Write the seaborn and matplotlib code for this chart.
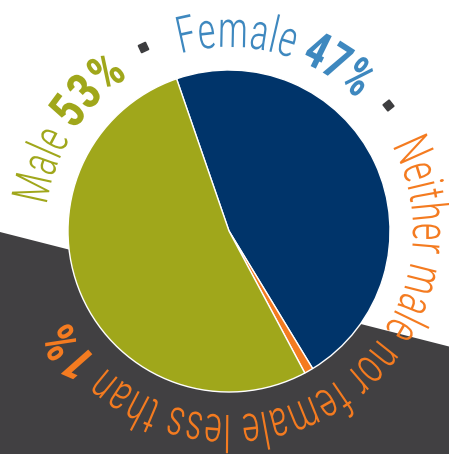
import numpy as np
import matplotlib
matplotlib.use("Agg")
import matplotlib.pyplot as plt
import seaborn as sns
from matplotlib.font_manager import FontProperties, findfont, get_font
from matplotlib.textpath import TextPath
from matplotlib.patches import PathPatch, Polygon
from matplotlib.transforms import Affine2D

# Gender split of respondents
categories = ["Female", "Neither male nor female", "Male"]
shares = [47, 0.9, 53]
slice_colors = ["#00346a", "#f47b20", "#a0a71b"]

# Ring captions: name text (light) followed by the value (bold)
caption_names = ["Male ", "Female ", "Neither male nor female less than "]
caption_values = ["53%", "47%", "1%"]
caption_colors = ["#a0a71b", "#3e88bf", "#f47b20"]
# angular extents, degrees clockwise from 12 o'clock: name start, value start, value end
caption_start = [-82.0, -15.4, 62.2]
caption_split = [-57.0, 22.8, 225.0]
caption_end = [-33.0, 44.2, 241.0]
separator_angles = [-25.1, 51.6]

W, H = 449, 454
CX, CY = 229, H - 231
PIE_R = 161
TEXT_R = 184
FS = 51

sns.set_style("white")
plt.rcParams["font.family"] = ["Roboto Condensed", "DejaVu Sans"]

light = FontProperties(family=["Roboto Condensed", "DejaVu Sans"], weight=300)
bold = FontProperties(family=["Roboto Condensed", "DejaVu Sans"], weight="bold")


def ring_text(ax, text, prop, color, start, end, radius, size):
    """Lay glyphs clockwise along a circle between two angles, tops outward."""
    font = get_font(findfont(prop))
    font.set_size(size, 72)
    advs = [font.load_char(ord(ch)).linearHoriAdvance / 65536 for ch in text]
    sx = np.deg2rad(end - start) * radius / sum(advs)
    s = 0.0
    for ch, adv in zip(text, advs):
        theta = np.deg2rad(start) + (s + adv * sx / 2) / radius
        s += adv * sx
        if ch == " ":
            continue
        path = TextPath((0, 0), ch, size=size, prop=prop)
        tr = (Affine2D().translate(-adv / 2, 0).scale(sx, 1).rotate(-theta)
              .translate(CX + radius * np.sin(theta), CY + radius * np.cos(theta)))
        ax.add_patch(PathPatch(tr.transform_path(path), fc=color, ec="none",
                               lw=0, zorder=3))


fig = plt.figure(figsize=(W / 100, H / 100), dpi=100, facecolor="white")
ax = fig.add_axes([0, 0, 1, 1])

# dark band across the lower part
ax.add_patch(Polygon([(0, H - 232), (W, H - 346.5), (W, 0), (0, 0)],
                     closed=True, fc="#414042", ec="none", zorder=0))

ax.pie(shares, colors=slice_colors, startangle=90 + 19, counterclock=False,
       center=(CX, CY), radius=PIE_R,
       wedgeprops=dict(edgecolor="white", linewidth=1.0))

for name, value, color, a0, am, a1 in zip(caption_names, caption_values, caption_colors,
                                          caption_start, caption_split, caption_end):
    ring_text(ax, name, light, color, a0, am, TEXT_R, FS)
    ring_text(ax, value, bold, color, am, a1, TEXT_R, FS)

for ang in separator_angles:
    t = np.deg2rad(ang)
    ax.plot(CX + 203.5 * np.sin(t), CY + 203.5 * np.cos(t),
            marker=(4, 0, 45 - ang), ms=8, color="#3d3d3f", zorder=3)

ax.set_xlim(0, W)
ax.set_ylim(0, H)
ax.set_aspect("equal", adjustable="box")
ax.axis("off")
fig.savefig("out.png", dpi=100, facecolor="white")
